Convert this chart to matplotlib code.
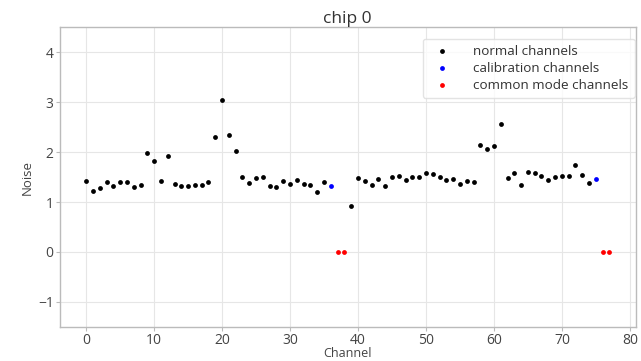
import matplotlib
matplotlib.use("Agg")
import matplotlib.pyplot as plt
import numpy as np

plt.rcParams['font.family'] = ['Open Sans', 'DejaVu Sans']

normal_channels = [0,1,2,3,4,5,6,7,8,9,10,11,12,13,14,15,16,17,18,19,20,21,22,23,24,25,
                   26,27,28,29,30,31,32,33,34,35,39,40,41,42,43,44,45,46,47,48,49,50,51,52,
                   53,54,55,56,57,58,59,60,61,62,63,64,65,66,67,68,69,70,71,72,73,74]
normal_noise = [1.43,1.23,1.29,1.40,1.33,1.40,1.41,1.30,1.35,1.98,1.82,1.43,1.93,1.37,1.33,1.33,
                1.35,1.35,1.40,2.31,3.04,2.34,2.03,1.51,1.39,1.49,
                1.51,1.32,1.31,1.43,1.37,1.44,1.36,1.35,1.21,1.41,0.91,1.49,1.43,1.35,
                1.46,1.33,1.51,1.52,1.45,1.50,1.51,1.58,1.57,1.50,
                1.44,1.46,1.36,1.42,1.41,2.15,2.07,2.13,2.57,1.49,1.58,1.34,1.61,1.58,
                1.53,1.45,1.50,1.53,1.52,1.75,1.54,1.38]
calib_channels = [36, 75]
calib_noise = [1.33, 1.47]
cm_channels = [37, 38, 76, 77]
cm_noise = [0, 0, 0, 0]

xticks = [0, 10, 20, 30, 40, 50, 60, 70, 80]
yticks = [-1, 0, 1, 2, 3, 4]

fig = plt.figure(figsize=(6.41, 3.61), dpi=100)
ax = fig.add_axes([0.0936, 0.095, 0.898, 0.829])

ax.scatter(normal_channels, normal_noise, s=12, c='black', linewidths=0, label='normal channels', zorder=3)
ax.scatter(calib_channels, calib_noise, s=12, c='blue', linewidths=0, label='calibration channels', zorder=3)
ax.scatter(cm_channels, cm_noise, s=12, c='red', linewidths=0, label='common mode channels', zorder=3)

ax.set_xlim(-3.85, 80.85)
ax.set_ylim(-1.5, 4.5)
ax.set_xticks(xticks)
ax.set_yticks(yticks)
ax.grid(True, color='#e6e6e6', linewidth=0.8)
ax.set_axisbelow(True)
for s in ax.spines.values():
    s.set_color('#bbbbbb')
    s.set_linewidth(1.0)
ax.tick_params(colors='#bbbbbb', labelcolor='#444444', labelsize=10, length=3, width=0.8, pad=1.5)

ax.set_title('chip 0', fontsize=12.5, color='#333333', pad=3)
ax.set_xlabel('Channel', fontsize=9, color='#444444', labelpad=-0.5)
ax.set_ylabel('Noise', fontsize=9.5, color='#444444', labelpad=3)

leg = ax.legend(loc='upper right', fontsize=9.7, frameon=True, markerscale=1.0,
                handletextpad=1.3, borderpad=0.45, labelspacing=0.3,
                bbox_to_anchor=(1.01, 0.985))
leg.get_frame().set_edgecolor('#dddddd')
for t in leg.get_texts():
    t.set_color('#333333')

fig.savefig('out.png', dpi=100)
